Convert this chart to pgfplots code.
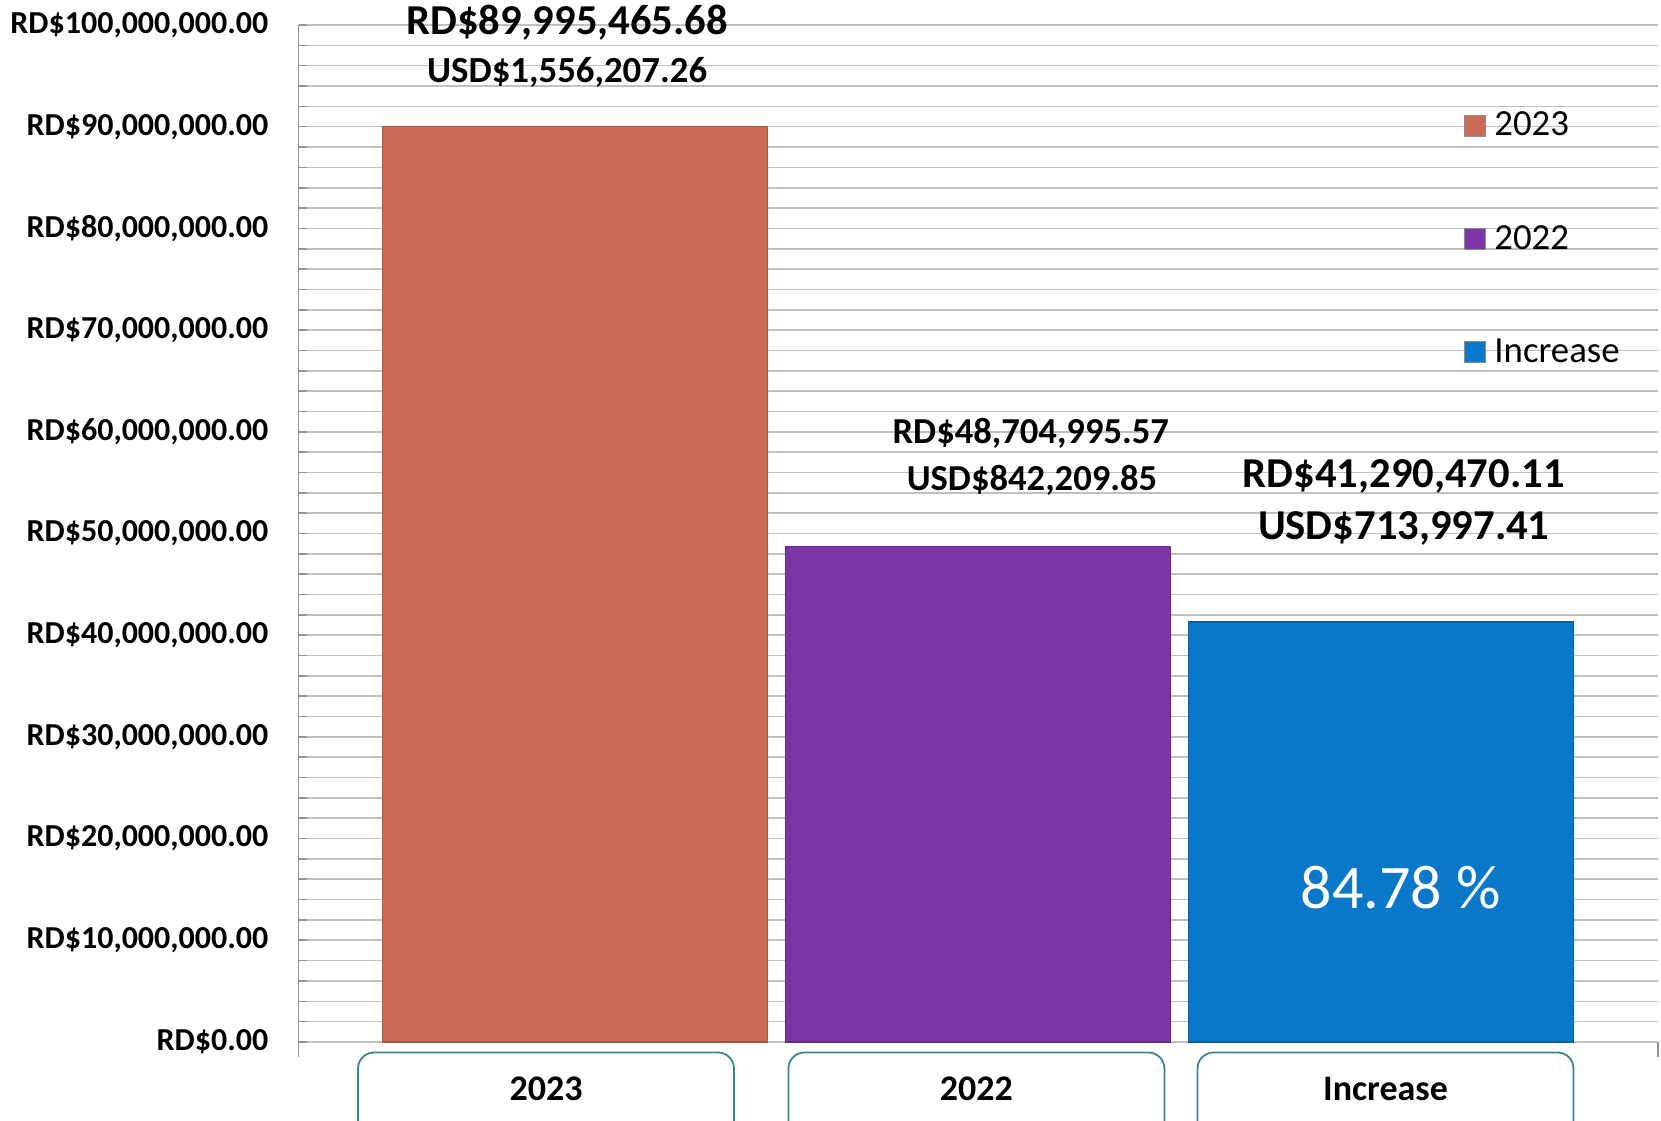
\documentclass[border=0pt]{standalone}
\usepackage{fontspec}
\setmainfont{Carlito}
\usepackage{pgfplots}
\pgfplotsset{compat=1.18}
\definecolor{cA}{RGB}{204,107,85}
\definecolor{cB}{RGB}{123,54,168}
\definecolor{cC}{RGB}{10,120,200}
\definecolor{boxc}{RGB}{63,130,145}
\definecolor{gridc}{RGB}{192,192,192}
\begin{document}
\begin{tikzpicture}
\path[use as bounding box] (0,0) rectangle (830.5pt,560pt);
\begin{axis}[
  at={(149.35pt,31.7pt)}, anchor=south west,
  scale only axis, width=679.55pt, height=515.8pt,
  xmin=-0.6865, xmax=2.6877,
  ymin=-1436000, ymax=100000000,
  clip=false,
  axis y line*=left, axis x line*=bottom,
  x axis line style={draw=none},
  y axis line style={draw=gray!85, line width=0.8pt},
  xtick={-0.0725,0.996,2.0117},
  xticklabels={2023,2022,Increase},
  major x tick style={draw=none},
  xticklabel style={font=\bfseries\fontsize{18}{20}\selectfont, draw=boxc, line width=0.9pt,
     rounded corners=8pt, minimum width=188pt, inner sep=0pt,
     text height=24pt, text depth=40pt, anchor=north, yshift=2.5pt},
  ytick={0,10000000,20000000,30000000,40000000,50000000,60000000,70000000,80000000,90000000,100000000},
  yticklabels={{RD\$0.00},{RD\$10,000,000.00},{RD\$20,000,000.00},{RD\$30,000,000.00},{RD\$40,000,000.00},{RD\$50,000,000.00},{RD\$60,000,000.00},{RD\$70,000,000.00},{RD\$80,000,000.00},{RD\$90,000,000.00},{RD\$100,000,000.00}},
  minor ytick={2000000,4000000,6000000,8000000,12000000,14000000,16000000,18000000,22000000,24000000,26000000,28000000,32000000,34000000,36000000,38000000,42000000,44000000,46000000,48000000,52000000,54000000,56000000,58000000,62000000,64000000,66000000,68000000,72000000,74000000,76000000,78000000,82000000,84000000,86000000,88000000,92000000,94000000,96000000,98000000},
  yticklabel style={font=\bfseries\fontsize{16}{18}\selectfont, anchor=east, inner sep=0pt, xshift=-15pt},
  scaled y ticks=false,
  tick align=inside,
  major tick length=4pt, minor tick length=4pt,
  major y tick style={draw=gray!85, line width=0.8pt},
  minor y tick style={draw=gray!85, line width=0.8pt},
  ymajorgrids, yminorgrids,
  major grid style={draw=gridc, line width=0.8pt},
  minor grid style={draw=gridc, line width=0.8pt},
  legend style={at={(rel axis cs:0.8527,0.9237)}, anchor=north west, draw=none, fill=none,
     font=\fontsize{18.4}{20}\selectfont, row sep=39.2pt, legend cell align=left,
     nodes={inner xsep=4.2pt}},
  legend image code/.code={\draw[#1, draw=black!45, line width=0.5pt] (0pt,-5.25pt) rectangle (10.5pt,5.25pt);},
]
\addplot[ybar, bar width=192.5pt, bar shift=0pt, fill=cA, draw=cA!80!black, line width=0.6pt] coordinates {(0,89995465.68)};
\addlegendentry{2023}
\addplot[ybar, bar width=192.5pt, bar shift=0pt, fill=cB, draw=cB!80!black, line width=0.6pt] coordinates {(1,48704995.57)};
\addlegendentry{2022}
\addplot[ybar, bar width=192.5pt, bar shift=0pt, fill=cC, draw=cC!80!black, line width=0.6pt] coordinates {(2,41290470.11)};
\addlegendentry{Increase}
\draw[gray!85, line width=0.8pt] (axis cs:2.6877,0) -- (axis cs:2.6877,-1436000);
\node[font=\bfseries\fontsize{21.3}{24}\selectfont] at (axis cs:-0.02,100200000) {RD\$89,995,465.68};
\node[font=\bfseries\fontsize{18.4}{22}\selectfont] at (axis cs:-0.02,95300000) {USD\$1,556,207.26};
\node[font=\bfseries\fontsize{18.3}{22}\selectfont] at (axis cs:1.131,59800000) {RD\$48,704,995.57};
\node[font=\bfseries\fontsize{18.3}{22}\selectfont] at (axis cs:1.134,55200000) {USD\$842,209.85};
\node[font=\bfseries\fontsize{21.3}{24}\selectfont] at (axis cs:2.057,55600000) {RD\$41,290,470.11};
\node[font=\bfseries\fontsize{21.3}{24}\selectfont] at (axis cs:2.057,50500000) {USD\$713,997.41};
\node[font=\fontsize{31}{34}\selectfont, text=white] at (axis cs:2.049,15200000) {84.78 \%};
\end{axis}
\end{tikzpicture}
\end{document}
